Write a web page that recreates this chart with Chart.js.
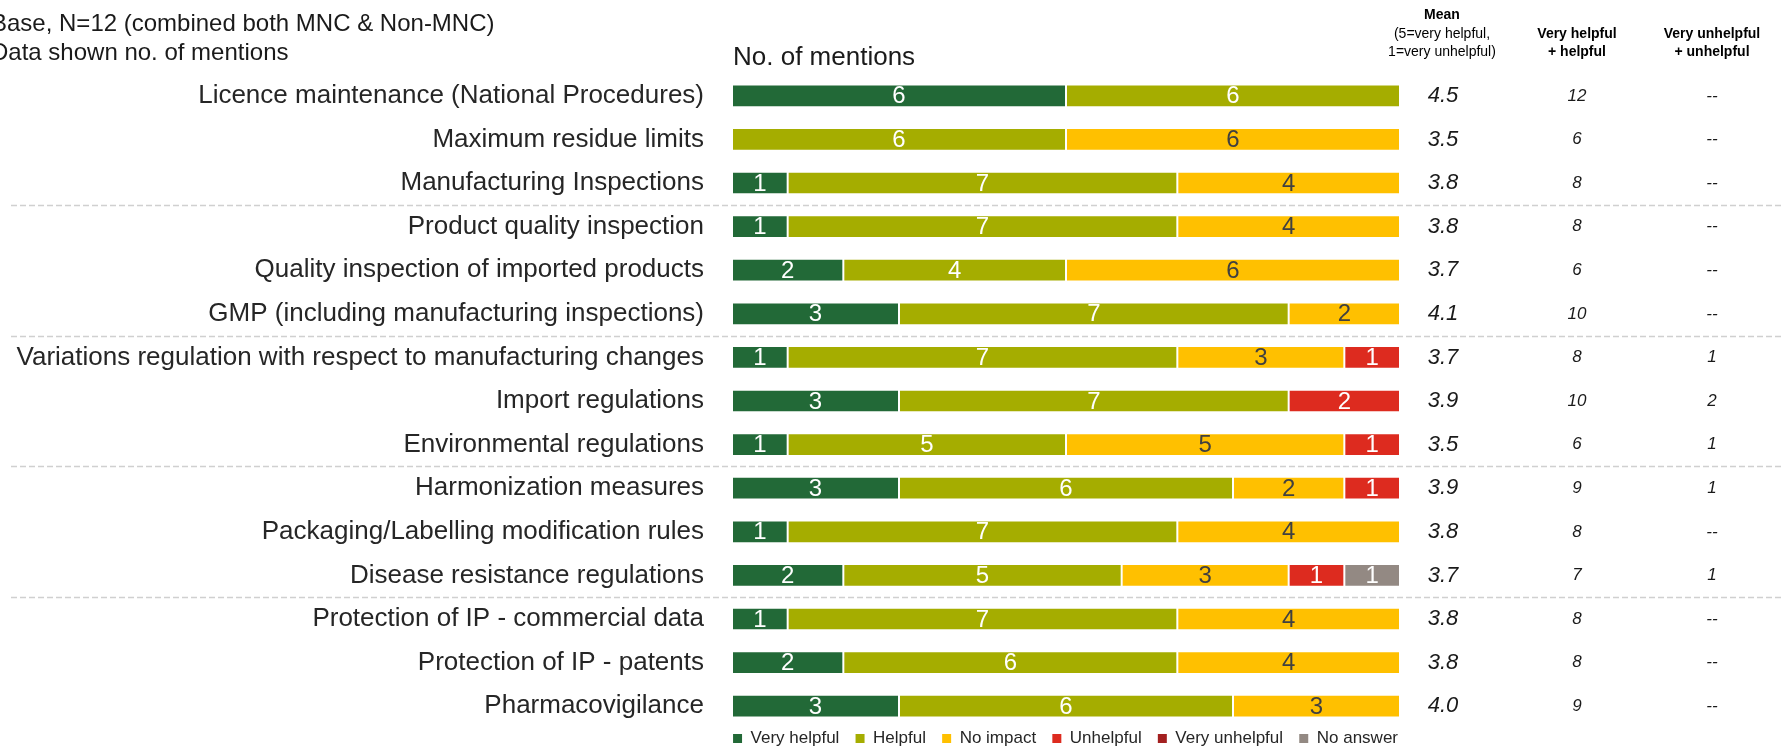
<!DOCTYPE html>
<html>
<head>
<meta charset="utf-8">
<script src="https://cdn.jsdelivr.net/npm/chart.js@4.4.1/dist/chart.umd.min.js"></script>
<style>
  html, body { margin: 0; padding: 0; background: #fff; }
  #wrap { width: 1781px; height: 747px; }
</style>
</head>
<body>
<div id="wrap"><canvas id="chart" width="1781" height="747"></canvas></div>
<script>
// rows, top to bottom
const categories = [
  'Licence maintenance (National Procedures)',
  'Maximum residue limits',
  'Manufacturing Inspections',
  'Product quality inspection',
  'Quality inspection of imported products',
  'GMP (including manufacturing inspections)',
  'Variations regulation with respect to manufacturing changes',
  'Import regulations',
  'Environmental regulations',
  'Harmonization measures',
  'Packaging/Labelling modification rules',
  'Disease resistance regulations',
  'Protection of IP - commercial data',
  'Protection of IP - patents',
  'Pharmacovigilance'
];

const veryHelpful   = [6, 0, 1, 1, 2, 3, 1, 3, 1, 3, 1, 2, 1, 2, 3];
const helpful       = [6, 6, 7, 7, 4, 7, 7, 7, 5, 6, 7, 5, 7, 6, 6];
const noImpact      = [0, 6, 4, 4, 6, 2, 3, 0, 5, 2, 4, 3, 4, 4, 3];
const unhelpful     = [0, 0, 0, 0, 0, 0, 1, 2, 1, 1, 0, 1, 0, 0, 0];
const veryUnhelpful = [0, 0, 0, 0, 0, 0, 0, 0, 0, 0, 0, 0, 0, 0, 0];
const noAnswer      = [0, 0, 0, 0, 0, 0, 0, 0, 0, 0, 0, 1, 0, 0, 0];

const meanScore    = ['4.5', '3.5', '3.8', '3.8', '3.7', '4.1', '3.7', '3.9', '3.5', '3.9', '3.8', '3.7', '3.8', '3.8', '4.0'];
const helpfulSum   = ['12', '6', '8', '8', '6', '10', '8', '10', '6', '9', '8', '7', '8', '8', '9'];
const unhelpfulSum = ['--', '--', '--', '--', '--', '--', '1', '2', '1', '1', '--', '1', '--', '--', '--'];

// rows after which a dashed separator is drawn
const groupEnds = [2, 5, 8, 11];

const SANS = "'Liberation Sans', Arial, sans-serif";

const series = [
  { label: 'Very helpful',   data: veryHelpful,   color: '#226937', text: '#ffffff' },
  { label: 'Helpful',        data: helpful,       color: '#a5ad00', text: '#ffffff' },
  { label: 'No impact',      data: noImpact,      color: '#ffc000', text: '#404040' },
  { label: 'Unhelpful',      data: unhelpful,     color: '#dd2b1f', text: '#ffffff' },
  { label: 'Very unhelpful', data: veryUnhelpful, color: '#a32020', text: '#ffffff' },
  { label: 'No answer',      data: noAnswer,      color: '#938983', text: '#ffffff' }
];

// numbers inside the bars + dashed separators + side columns + headers
const extras = {
  id: 'extras',
  afterDatasetsDraw(chart) {
    const ctx = chart.ctx;
    ctx.save();
    ctx.font = '24px ' + SANS;
    ctx.textAlign = 'center';
    ctx.textBaseline = 'middle';
    chart.data.datasets.forEach((ds, i) => {
      const meta = chart.getDatasetMeta(i);
      meta.data.forEach((bar, j) => {
        const v = ds.data[j];
        if (!v) return;
        ctx.fillStyle = series[i].text;
        ctx.fillText(String(v), (bar.x + bar.base) / 2, bar.y + 1);
      });
    });
    ctx.restore();
  },
  afterDraw(chart) {
    const ctx = chart.ctx;
    const y = chart.scales.y;
    ctx.save();

    // separators
    ctx.strokeStyle = '#d0d0d0';
    ctx.lineWidth = 1.5;
    ctx.setLineDash([6, 3]);
    groupEnds.forEach(i => {
      const yy = Math.round((y.getPixelForValue(i) + y.getPixelForValue(i + 1)) / 2) + 0.5;
      ctx.beginPath();
      ctx.moveTo(11, yy);
      ctx.lineTo(1781, yy);
      ctx.stroke();
    });
    ctx.setLineDash([]);

    // side columns
    ctx.textAlign = 'center';
    ctx.textBaseline = 'middle';
    ctx.fillStyle = '#1a1a1a';
    categories.forEach((c, i) => {
      const yy = y.getPixelForValue(i);
      ctx.font = 'italic 22px ' + SANS;
      ctx.fillText(meanScore[i], 1443, yy);
      ctx.font = 'italic 17px ' + SANS;
      ctx.fillText(helpfulSum[i], 1577, yy);
      ctx.fillText(unhelpfulSum[i], 1712, yy);
    });

    // column headers
    ctx.fillStyle = '#000000';
    ctx.font = 'bold 14px ' + SANS;
    ctx.fillText('Mean', 1442, 15);
    ctx.font = '14px ' + SANS;
    ctx.fillText('(5=very helpful,', 1442, 34);
    ctx.fillText('1=very unhelpful)', 1442, 52);
    ctx.font = 'bold 14px ' + SANS;
    ctx.fillText('Very helpful', 1577, 34);
    ctx.fillText('+ helpful', 1577, 52);
    ctx.fillText('Very unhelpful', 1712, 34);
    ctx.fillText('+ unhelpful', 1712, 52);

    // top-left notes
    ctx.textAlign = 'left';
    ctx.fillStyle = '#1a1a1a';
    ctx.font = '24px ' + SANS;
    ctx.fillText('Base, N=12 (combined both MNC & Non-MNC)', -9, 24);
    ctx.fillText('Data shown no. of mentions', -9, 53);
    ctx.font = '26px ' + SANS;
    ctx.fillText('No. of mentions', 733, 58);
    ctx.restore();
  }
};

const baseLabels = Chart.defaults.plugins.legend.labels.generateLabels;

new Chart(document.getElementById('chart'), {
  type: 'bar',
  data: {
    labels: categories,
    datasets: series.map(s => ({
      label: s.label,
      data: s.data.map(v => v || null),
      backgroundColor: s.color,
      borderColor: 'rgba(255,255,255,0.85)',
      borderWidth: 1,
      borderSkipped: false,
      categoryPercentage: 1,
      barPercentage: 0.52
    }))
  },
  options: {
    indexAxis: 'y',
    responsive: false,
    animation: false,
    layout: {
      padding: { top: 74, right: 381, bottom: 0, left: 0 }
    },
    plugins: {
      tooltip: { enabled: false },
      legend: {
        position: 'bottom',
        align: 'end',
        maxHeight: 19,
        labels: {
          font: { family: SANS, size: 17 },
          color: '#262626',
          boxWidth: 9,
          boxHeight: 9,
          padding: 2,
          // extra spacing between legend items
          generateLabels: chart => {
            const items = baseLabels(chart);
            return items.map((l, i) => ({ ...l, text: i < items.length - 1 ? l.text + '   ' : l.text, lineWidth: 0 }));
          }
        }
      }
    },
    scales: {
      x: {
        stacked: true,
        display: false,
        min: 0,
        max: 12
      },
      y: {
        stacked: true,
        grid: { display: false },
        border: { display: false },
        ticks: {
          font: { family: SANS, size: 26 },
          color: '#262626',
          padding: 20,
          autoSkip: false
        },
        afterFit: scale => {
          scale.width = 732;
          scale.paddingTop = 0;
          scale.paddingBottom = 0;
        }
      }
    }
  },
  plugins: [extras]
});
</script>
</body>
</html>
